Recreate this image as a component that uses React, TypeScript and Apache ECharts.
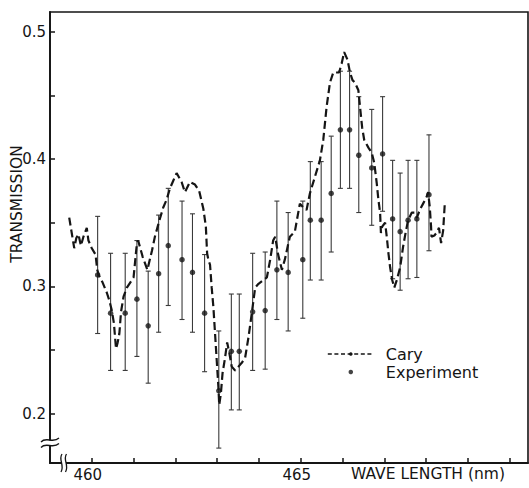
import React, { useEffect, useRef } from "react";
import * as echarts from "echarts";

// Cary spectrophotometer trace (dashed curve)
const caryWavelength = [
  459.46, 459.5, 459.58, 459.63, 459.68, 459.74, 459.8, 459.88, 459.92, 460.0,
  460.09, 460.13, 460.18, 460.26, 460.36, 460.42, 460.48, 460.53, 460.58, 460.62,
  460.66, 460.7, 460.76, 460.84, 460.92, 461.0, 461.08, 461.11, 461.22, 461.33,
  461.44, 461.51, 461.62, 461.71, 461.79, 461.87, 461.95, 462.03, 462.15, 462.23,
  462.35, 462.47, 462.57, 462.67, 462.73, 462.76, 462.79, 462.83, 462.87, 462.91,
  462.95, 462.99, 463.03, 463.05, 463.09, 463.13, 463.19, 463.24, 463.29, 463.35,
  463.43, 463.51, 463.59, 463.67, 463.75, 463.83, 463.91, 463.99, 464.11, 464.19,
  464.27, 464.34, 464.39, 464.46, 464.55, 464.62, 464.74, 464.86, 464.98, 465.06,
  465.14, 465.22, 465.34, 465.46, 465.54, 465.62, 465.7, 465.78, 465.86, 465.92,
  465.98, 466.04, 466.12, 466.18, 466.24, 466.3, 466.38, 466.42, 466.47, 466.52,
  466.62, 466.7, 466.76, 466.82, 466.86, 466.9, 466.92, 466.95, 467.02, 467.06,
  467.1, 467.14, 467.19, 467.24, 467.3, 467.38, 467.45, 467.51, 467.57, 467.66,
  467.72, 467.78, 467.85, 467.93, 468.01, 468.05, 468.09, 468.12, 468.13, 468.2,
  468.25, 468.31, 468.36, 468.41, 468.45,
];
const caryTransmission = [
  0.354, 0.346, 0.33, 0.338, 0.341, 0.332, 0.339, 0.346, 0.336, 0.33,
  0.325, 0.313, 0.308, 0.303, 0.295, 0.289, 0.281, 0.271, 0.251, 0.256,
  0.263, 0.28, 0.292, 0.299, 0.303, 0.307, 0.334, 0.336, 0.323, 0.313,
  0.328, 0.339, 0.352, 0.362, 0.368, 0.377, 0.383, 0.389, 0.382, 0.374,
  0.382, 0.38, 0.375, 0.361, 0.347, 0.326, 0.321, 0.317, 0.299, 0.284,
  0.263, 0.242, 0.221, 0.207, 0.216, 0.232, 0.244, 0.256, 0.248, 0.237,
  0.234, 0.237, 0.24, 0.244, 0.26, 0.279, 0.299, 0.302, 0.305, 0.307,
  0.321, 0.336, 0.339, 0.325, 0.313, 0.321, 0.339, 0.343, 0.365, 0.362,
  0.36, 0.373, 0.386, 0.399, 0.415, 0.441, 0.46, 0.468, 0.468, 0.468,
  0.475, 0.484, 0.478, 0.468, 0.462, 0.46, 0.454, 0.441, 0.425, 0.415,
  0.409, 0.405, 0.397, 0.381, 0.368, 0.358, 0.342, 0.347, 0.35, 0.339,
  0.326, 0.315, 0.305, 0.299, 0.305, 0.315, 0.331, 0.342, 0.352, 0.358,
  0.358, 0.354, 0.36, 0.365, 0.37, 0.374, 0.362, 0.347, 0.339, 0.34,
  0.342, 0.346, 0.334, 0.344, 0.366,
];

// Experiment points with error bars
const expWavelength = [
  460.14, 460.45, 460.8, 461.08, 461.35, 461.6, 461.83, 462.16, 462.41, 462.7,
  463.04, 463.34, 463.53, 463.85, 464.15, 464.43, 464.7, 465.05, 465.23, 465.49,
  465.73, 465.95, 466.17, 466.39, 466.7, 466.96, 467.2, 467.38, 467.57, 467.78,
  468.07,
];
const expTransmission = [
  0.309, 0.279, 0.279, 0.29, 0.269, 0.31, 0.332, 0.321, 0.311, 0.279,
  0.218, 0.249, 0.249, 0.28, 0.281, 0.313, 0.311, 0.321, 0.352, 0.352,
  0.373, 0.423, 0.423, 0.403, 0.393, 0.404, 0.353, 0.343, 0.352, 0.353,
  0.372,
];
const expUpper = [
  0.355, 0.326, 0.326, 0.336, 0.312, 0.356, 0.377, 0.367, 0.357, 0.325,
  0.265, 0.294, 0.294, 0.326, 0.327, 0.367, 0.358, 0.367, 0.398, 0.398,
  0.418, 0.469, 0.469, 0.449, 0.439, 0.449, 0.399, 0.389, 0.399, 0.399,
  0.419,
];
const expLower = [
  0.263, 0.234, 0.234, 0.245, 0.224, 0.264, 0.285, 0.274, 0.264, 0.233,
  0.173, 0.203, 0.203, 0.234, 0.235, 0.274, 0.265, 0.275, 0.305, 0.305,
  0.327, 0.377, 0.377, 0.358, 0.348, 0.359, 0.306, 0.297, 0.306, 0.307,
  0.328,
];

const xTickValues = [460, 461, 462, 463, 464, 465, 466, 467, 468, 469, 470];
const xLabelValues = [460, 465];
const yTickValues = [0.2, 0.25, 0.3, 0.35, 0.4, 0.45, 0.5];
const yLabelValues = [0.2, 0.3, 0.4, 0.5];

const FONT = "DejaVu Sans";
const INK = "#151515";

export default function App() {
  const ref = useRef<HTMLDivElement>(null);

  useEffect(() => {
    if (!ref.current) return;
    const chart = echarts.init(ref.current, undefined, { renderer: "svg" });

    const caryData = caryWavelength.map((w, i) => [w, caryTransmission[i]]);
    const expData = expWavelength.map((w, i) => [w, expTransmission[i]]);
    const errData = expWavelength.map((w, i) => [w, expLower[i], expUpper[i]]);

    const axisLineStyle = { color: INK, width: 1.8 };

    chart.setOption({
      animation: false,
      backgroundColor: "#ffffff",
      grid: {
        left: 50,
        top: 12,
        width: 478,
        height: 451,
        show: true,
        borderColor: INK,
        borderWidth: 1.6,
        backgroundColor: "transparent",
      },
      xAxis: {
        type: "value",
        min: 459,
        max: 470.44,
        interval: 1,
        axisLine: { show: true, lineStyle: axisLineStyle },
        axisTick: {
          show: true,
          inside: true,
          length: 5,
          lineStyle: { color: INK, width: 1.5 },
          customValues: xTickValues,
        },
        axisLabel: {
          show: true,
          customValues: xLabelValues,
          margin: 4,
          color: INK,
          fontFamily: FONT,
          fontSize: 15,
          padding: [0, 8, 0, 0],
          formatter: (v: number) => String(v),
        },
        splitLine: { show: false },
      },
      yAxis: {
        type: "value",
        min: 0.1613,
        max: 0.5155,
        axisLine: { show: true, lineStyle: axisLineStyle },
        axisTick: {
          show: true,
          inside: true,
          length: 5,
          lineStyle: { color: INK, width: 1.5 },
          customValues: yTickValues,
        },
        axisLabel: {
          show: true,
          customValues: yLabelValues,
          margin: 4,
          color: INK,
          fontFamily: FONT,
          fontSize: 15,
          formatter: (v: number) => v.toFixed(1),
        },
        splitLine: { show: false },
      },
      legend: {
        data: ["Cary", "Experiment"],
        orient: "vertical",
        left: 322,
        top: 341,
        itemWidth: 46,
        itemHeight: 4.5,
        itemGap: 2,
        lineStyle: { type: [4, 2.6], width: 1.6, color: INK },
        textStyle: {
          color: INK,
          fontFamily: FONT,
          fontSize: 16,
          padding: [0, 0, 0, 7],
        },
        selectedMode: false,
      },
      series: [
        {
          name: "Error",
          type: "custom",
          data: errData,
          encode: { x: 0, y: [1, 2] },
          z: 1,
          renderItem: (_params: any, api: any) => {
            const x = api.value(0);
            const lo = api.value(1);
            const hi = api.value(2);
            const pTop = api.coord([x, hi]);
            const pBot = api.coord([x, lo]);
            const cap = 2.5;
            const style = { stroke: "#3a3a3a", lineWidth: 1.1 };
            return {
              type: "group",
              children: [
                {
                  type: "line",
                  shape: { x1: pTop[0], y1: pTop[1], x2: pBot[0], y2: pBot[1] },
                  style,
                },
                {
                  type: "line",
                  shape: { x1: pTop[0] - cap, y1: pTop[1], x2: pTop[0] + cap, y2: pTop[1] },
                  style,
                },
                {
                  type: "line",
                  shape: { x1: pBot[0] - cap, y1: pBot[1], x2: pBot[0] + cap, y2: pBot[1] },
                  style,
                },
              ],
            };
          },
        },
        {
          name: "Cary",
          type: "line",
          data: caryData,
          symbol: "none",
          showSymbol: false,
          z: 2,
          lineStyle: { color: INK, width: 2.2, type: [8, 4] },
          itemStyle: { color: INK },
        },
        {
          name: "Experiment",
          type: "scatter",
          data: expData,
          symbol: "circle",
          symbolSize: 5.5,
          z: 3,
          itemStyle: { color: INK },
        },
      ],
      graphic: [
        {
          type: "text",
          x: 17,
          y: 204,
          rotation: Math.PI / 2,
          style: {
            text: "TRANSMISSION",
            fill: INK,
            font: `15.5px "${FONT}"`,
            align: "center",
            verticalAlign: "middle",
          },
        },
        {
          type: "text",
          left: 351,
          top: 466,
          style: {
            text: "WAVE LENGTH (nm)",
            fill: INK,
            font: `15.5px "${FONT}"`,
          },
        },
        // y-axis break
        {
          type: "rect",
          z: 100,
          shape: { x: 46, y: 440.5, width: 8, height: 5.5 },
          style: { fill: "#ffffff" },
        },
        {
          type: "bezierCurve",
          z: 101,
          shape: { x1: 41, y1: 442, cpx1: 46, cpy1: 436, cpx2: 53, cpy2: 444, x2: 59, y2: 438 },
          style: { stroke: INK, lineWidth: 1.3, fill: "none" },
        },
        {
          type: "bezierCurve",
          z: 101,
          shape: { x1: 41, y1: 447.5, cpx1: 46, cpy1: 441.5, cpx2: 53, cpy2: 449.5, x2: 59, y2: 443.5 },
          style: { stroke: INK, lineWidth: 1.3, fill: "none" },
        },
        // x-axis break
        {
          type: "rect",
          z: 100,
          shape: { x: 61.5, y: 459, width: 4.5, height: 8 },
          style: { fill: "#ffffff" },
        },
        {
          type: "bezierCurve",
          z: 101,
          shape: { x1: 62, y1: 454, cpx1: 58, cpy1: 460, cpx2: 65, cpy2: 465, x2: 61, y2: 472 },
          style: { stroke: INK, lineWidth: 1.3, fill: "none" },
        },
        {
          type: "bezierCurve",
          z: 101,
          shape: { x1: 66.5, y1: 454, cpx1: 62.5, cpy1: 460, cpx2: 69.5, cpy2: 465, x2: 65.5, y2: 472 },
          style: { stroke: INK, lineWidth: 1.3, fill: "none" },
        },
      ],
    });

    return () => {
      chart.dispose();
    };
  }, []);

  return (
    <div
      ref={ref}
      style={{ position: "fixed", left: 0, top: 0, width: 529, height: 488 }}
    />
  );
}
